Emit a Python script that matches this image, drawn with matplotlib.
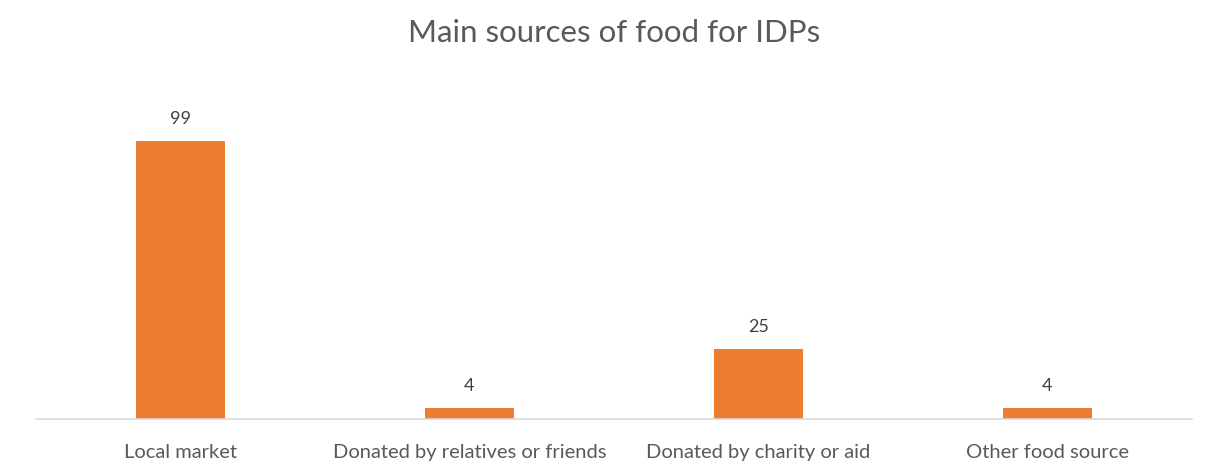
import matplotlib.pyplot as plt

categories = ["Local market", "Donated by relatives or friends", "Donated by charity or aid", "Other food source"]
counts = [99, 4, 25, 4]

plt.rcParams['font.family'] = ['Lato', 'DejaVu Sans']

fig = plt.figure(figsize=(12.13, 4.70), dpi=100)
ax = fig.add_axes([36 / 1213, 51 / 470, 1156 / 1213, 337 / 470])

x = range(len(categories))
bars = ax.bar(x, counts, width=0.31, color='#ED7D31', zorder=2)
for b, v in zip(bars, counts):
    ax.text(b.get_x() + b.get_width() / 2, v + 5, str(v), ha='center', va='bottom',
            fontsize=13, color='#404040')

ax.set_xlim(-0.5, len(categories) - 0.5)
ax.set_ylim(0, 120)
ax.set_xticks(list(x))
ax.set_xticklabels(categories, fontsize=14.5, color='#595959')
ax.tick_params(axis='x', length=0, pad=18)
ax.set_yticks([])
for s in ['top', 'right', 'left']:
    ax.spines[s].set_visible(False)
ax.spines['bottom'].set_color('#D9D9D9')
ax.spines['bottom'].set_linewidth(1.2)

fig.text(614 / 1213, 1 - 33 / 470, "Main sources of food for IDPs", ha='center', va='center',
         fontsize=22.5, color='#595959')

fig.savefig('out.png', dpi=100)
